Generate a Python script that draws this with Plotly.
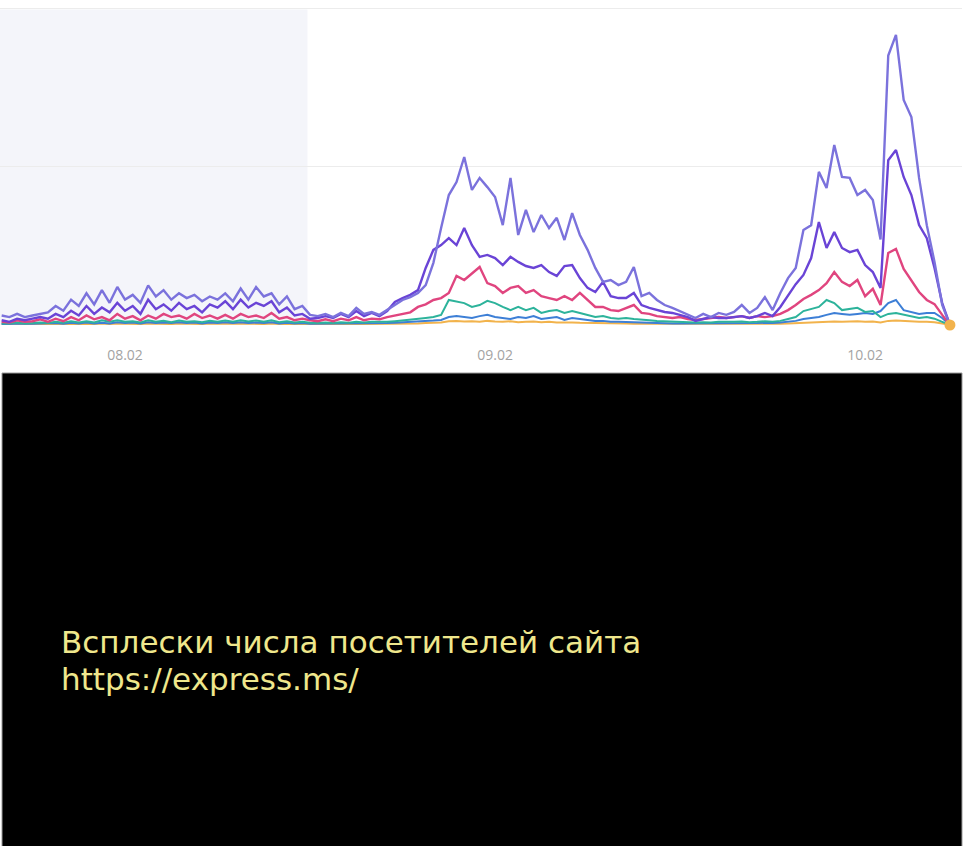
import pandas as pd
import plotly.graph_objects as go

# ---- data (half-hour samples, values in arbitrary visit units) ----
start_time = "2022-02-07 16:00"
n_points = 124
times = pd.date_range(start_time, periods=n_points, freq="30min")

tick_labels_fmt = "%d.%m"

series_a = [
    3.0, 2.5, 3.5, 2.5, 3.0, 3.5, 4.0, 6.0, 4.5, 8.0,
    6.0, 10.0, 6.5, 11.0, 7.0, 12.0, 8.0, 9.5, 7.0, 12.5,
    9.0, 11.0, 8.0, 10.0, 8.5, 9.5, 7.5, 9.0, 8.0, 10.0,
    7.5, 11.5, 8.0, 12.0, 9.0, 10.0, 6.5, 9.0, 5.0, 6.0,
    3.2, 2.8, 3.5, 2.5, 3.8, 2.8, 5.4, 3.5, 4.1, 3.2,
    4.7, 6.3, 7.9, 8.8, 10.1, 12.6, 19.6, 30.6, 41.0, 45.1,
    53.0, 42.6, 46.4, 43.5, 40.4, 31.5, 46.4, 28.4, 36.3, 29.3,
    34.7, 30.6, 33.8, 26.8, 35.3, 28.4, 23.7, 18.0, 13.6, 14.2,
    12.6, 13.6, 18.3, 9.1, 10.1, 7.9, 6.3, 5.4, 4.4, 3.2,
    2.2, 3.5, 2.5, 3.8, 3.2, 4.1, 6.3, 3.8, 5.4, 8.8,
    4.7, 10.1, 14.8, 18.0, 30.0, 31.5, 48.3, 43.2, 56.8, 46.7,
    46.4, 41.0, 42.6, 39.4, 27.0, 85.0, 91.5, 71.0, 65.6, 46.4,
    31.5, 19.9, 6.3, 0.0,
]

series_b = [
    1.5, 1.0, 2.0, 1.5, 2.0, 2.5, 2.0, 3.5, 2.5, 4.5,
    3.0, 6.0, 3.5, 5.5, 4.0, 7.0, 4.5, 6.0, 3.5, 8.0,
    5.0, 6.5, 4.5, 7.0, 5.0, 6.0, 4.0, 6.5, 5.5, 7.5,
    5.0, 8.0, 5.5, 7.0, 6.0, 7.5, 4.0, 5.5, 3.0, 3.5,
    2.0, 2.2, 2.8, 2.2, 3.5, 2.5, 4.4, 2.8, 3.8, 2.8,
    4.4, 7.3, 8.5, 9.5, 11.0, 18.0, 23.7, 25.2, 27.4, 25.2,
    30.6, 25.2, 21.5, 22.1, 21.1, 18.9, 21.5, 19.9, 18.6, 18.0,
    18.9, 16.7, 15.5, 18.6, 18.9, 14.8, 11.7, 10.4, 13.6, 9.1,
    8.5, 8.5, 10.1, 6.3, 5.4, 4.7, 4.1, 3.8, 3.2, 2.5,
    1.3, 1.9, 2.5, 2.2, 2.2, 2.5, 2.8, 2.2, 2.8, 3.8,
    2.8, 5.7, 9.1, 12.9, 15.8, 21.1, 32.5, 24.3, 29.3, 24.3,
    23.0, 23.7, 18.9, 16.7, 11.7, 52.0, 55.2, 46.7, 41.0, 31.5,
    27.4, 18.0, 6.9, 0.0,
]

series_c = [
    1.0, 0.8, 1.5, 1.0, 1.2, 1.8, 1.0, 2.0, 1.2, 2.5,
    1.5, 3.0, 1.8, 2.5, 1.5, 3.5, 2.0, 2.8, 1.5, 3.0,
    2.0, 3.5, 2.5, 3.0, 2.0, 3.5, 2.2, 3.0, 2.0, 3.2,
    2.0, 3.5, 2.5, 3.0, 2.2, 3.8, 2.0, 2.5, 1.5, 2.0,
    1.5, 1.2, 1.8, 1.2, 2.0, 1.5, 2.5, 1.5, 2.0, 1.8,
    2.5, 3.0, 3.5, 4.0, 5.7, 6.5, 7.9, 8.5, 10.1, 15.5,
    14.2, 16.1, 18.3, 13.2, 12.3, 10.1, 11.7, 12.3, 10.1, 11.0,
    9.1, 8.5, 7.9, 9.1, 7.9, 10.1, 7.9, 5.7, 5.7, 4.7,
    4.4, 5.4, 6.3, 3.8, 3.5, 2.8, 2.5, 2.2, 2.5, 1.9,
    1.6, 1.9, 2.2, 2.5, 2.2, 2.5, 2.8, 2.2, 2.8, 2.5,
    2.8, 3.5, 4.7, 6.3, 8.2, 9.5, 11.0, 13.2, 16.7, 13.6,
    12.3, 14.2, 9.1, 11.4, 6.3, 22.7, 24.0, 17.7, 14.2, 10.4,
    7.9, 6.6, 3.2, 0.0,
]

series_d = [
    0.5, 0.5, 0.8, 0.5, 0.6, 0.8, 0.6, 1.0, 0.7, 1.2,
    0.8, 1.2, 0.8, 1.5, 1.0, 1.5, 1.0, 1.2, 0.8, 1.5,
    1.0, 1.3, 0.9, 1.4, 1.0, 1.2, 0.9, 1.3, 1.0, 1.4,
    1.0, 1.5, 1.1, 1.4, 1.0, 1.5, 0.9, 1.2, 0.8, 1.0,
    0.7, 0.6, 0.8, 0.6, 0.9, 0.7, 1.0, 0.8, 1.0, 0.9,
    1.0, 1.2, 1.4, 1.6, 1.9, 2.2, 2.5, 3.2, 7.9, 7.3,
    6.9, 5.7, 6.3, 7.6, 6.9, 5.7, 4.7, 5.7, 4.7, 5.4,
    3.8, 4.4, 4.7, 3.8, 4.4, 3.8, 3.2, 2.5, 2.8, 2.2,
    2.0, 2.2, 1.9, 1.6, 1.5, 1.3, 1.2, 1.0, 1.1, 0.9,
    0.8, 0.9, 0.8, 1.0, 0.9, 1.0, 1.1, 0.9, 1.0, 1.2,
    1.0, 1.3, 1.9, 2.5, 4.4, 5.0, 5.7, 7.9, 6.9, 4.7,
    5.0, 5.4, 4.1, 4.4, 2.5, 3.5, 3.8, 3.2, 2.8, 2.2,
    2.5, 2.0, 1.0, 0.0,
]

series_e = [
    0.3, 0.4, 0.3, 0.5, 0.4, 0.5, 0.4, 0.6, 0.4, 0.7,
    0.5, 0.8, 0.5, 0.7, 0.5, 0.9, 0.6, 0.8, 0.5, 0.9,
    0.6, 0.8, 0.6, 0.9, 0.6, 0.8, 0.5, 0.8, 0.6, 0.9,
    0.6, 0.9, 0.6, 0.8, 0.6, 0.9, 0.5, 0.7, 0.5, 0.6,
    0.4, 0.4, 0.5, 0.4, 0.5, 0.4, 0.6, 0.5, 0.6, 0.5,
    0.6, 0.7, 0.8, 0.9, 1.0, 1.2, 1.4, 1.6, 2.5, 2.8,
    2.5, 2.2, 2.8, 3.2, 2.5, 2.2, 1.9, 2.5, 2.2, 2.8,
    1.9, 2.2, 2.5, 1.6, 2.2, 1.9, 1.6, 1.3, 1.3, 1.0,
    1.0, 0.9, 0.8, 0.8, 0.7, 0.6, 0.6, 0.5, 0.5, 0.5,
    0.4, 0.5, 0.4, 0.5, 0.5, 0.5, 0.6, 0.5, 0.6, 0.7,
    0.6, 0.8, 1.0, 1.3, 1.9, 2.2, 2.5, 3.2, 3.8, 3.5,
    3.2, 3.5, 3.8, 3.5, 4.4, 6.9, 7.9, 4.7, 4.1, 3.5,
    3.8, 3.8, 2.2, 0.0,
]

series_f = [
    0.2, 0.3, 0.2, 0.3, 0.3, 0.2, 0.3, 0.4, 0.3, 0.4,
    0.3, 0.4, 0.3, 0.5, 0.3, 0.5, 0.4, 0.4, 0.3, 0.5,
    0.4, 0.5, 0.3, 0.5, 0.4, 0.4, 0.3, 0.5, 0.4, 0.5,
    0.4, 0.5, 0.4, 0.5, 0.3, 0.5, 0.3, 0.4, 0.3, 0.3,
    0.2, 0.2, 0.3, 0.2, 0.3, 0.2, 0.3, 0.3, 0.3, 0.3,
    0.3, 0.4, 0.4, 0.5, 0.5, 0.6, 0.7, 0.8, 1.2, 1.3,
    1.1, 1.2, 1.0, 1.3, 1.1, 1.0, 1.2, 0.9, 1.0, 1.1,
    0.9, 1.0, 0.8, 0.9, 0.8, 0.7, 0.7, 0.6, 0.6, 0.5,
    0.5, 0.5, 0.4, 0.4, 0.4, 0.3, 0.3, 0.3, 0.3, 0.3,
    0.2, 0.2, 0.2, 0.3, 0.2, 0.3, 0.3, 0.2, 0.3, 0.3,
    0.3, 0.4, 0.5, 0.6, 0.8, 0.9, 1.0, 1.2, 1.1, 1.0,
    1.1, 1.2, 1.0, 1.1, 0.8, 1.3, 1.4, 1.2, 1.1, 1.0,
    1.0, 0.9, 0.5, 0.0,
]

caption_lines = ["Всплески числа посетителей сайта", "https://express.ms/"]

shaded_start = "2022-02-07 15:50"
shaded_end = "2022-02-08 11:50"
x_range = ["2022-02-07 15:53:30", "2022-02-10 06:17"]

# ---- figure ----
W, H = 975, 846
fig = go.Figure()

styles = [
    (series_f, "#f2b34c", 2.0),
    (series_e, "#3d7fd6", 2.0),
    (series_d, "#2db39b", 2.0),
    (series_c, "#e0457f", 2.4),
    (series_b, "#6a44d6", 2.4),
    (series_a, "#7b72dc", 2.4),
]
for ys, col, w in styles:
    fig.add_trace(go.Scatter(x=times, y=ys, mode="lines",
                             line=dict(color=col, width=w), showlegend=False))

fig.add_trace(go.Scatter(x=[times[-1]], y=[series_f[-1]], mode="markers",
                         marker=dict(color="#f2b34c", size=11),
                         showlegend=False, cliponaxis=False))

y_bottom_px = 325
px_per_unit = (325 - 8) / 100.0
y_max = 101.0
y_top_px = y_bottom_px - y_max * px_per_unit

caption_font = dict(family="DejaVu Sans", size=31, color="#efe78c")

fig.update_layout(
    width=W, height=H,
    margin=dict(l=0, r=0, t=0, b=0),
    paper_bgcolor="white", plot_bgcolor="white",
    xaxis=dict(
        domain=[0, 962 / W], range=x_range, type="date",
        tickformat=tick_labels_fmt, dtick=86400000, tick0="2022-02-08",
        showgrid=False, zeroline=False, showline=False,
        tickfont=dict(family="Open Sans", size=14, color="#a3a3a3"),
        ticklabelstandoff=20,
    ),
    yaxis=dict(
        domain=[(H - y_bottom_px) / H, (H - y_top_px) / H],
        range=[0, y_max], tickvals=[0, 50, 100], showticklabels=False,
        gridcolor="#ececec", gridwidth=1, zeroline=False, showline=False,
    ),
    shapes=[
        dict(type="rect", xref="x", yref="y", x0=shaded_start, x1=shaded_end,
             y0=0, y1=99.5, fillcolor="#f4f5fa", line=dict(width=0), layer="below"),
        dict(type="rect", xref="paper", yref="paper", x0=2 / W, x1=962 / W,
             y0=-0.01, y1=1 - 373 / H, fillcolor="black",
             line=dict(color="#9a9a9a", width=1), layer="above"),
    ],
    annotations=[
        dict(xref="paper", yref="paper", x=60 / W, y=1 - 641.5 / H,
             xanchor="left", yanchor="middle", align="left", showarrow=False,
             text=caption_lines[0], borderpad=0, font=caption_font),
        dict(xref="paper", yref="paper", x=60 / W, y=1 - 678.5 / H,
             xanchor="left", yanchor="middle", align="left", showarrow=False,
             text=caption_lines[1], borderpad=0, font=caption_font),
    ],
)

fig.write_html("out.html", config={"displayModeBar": False},
               post_script="document.body.style.margin='0';")
